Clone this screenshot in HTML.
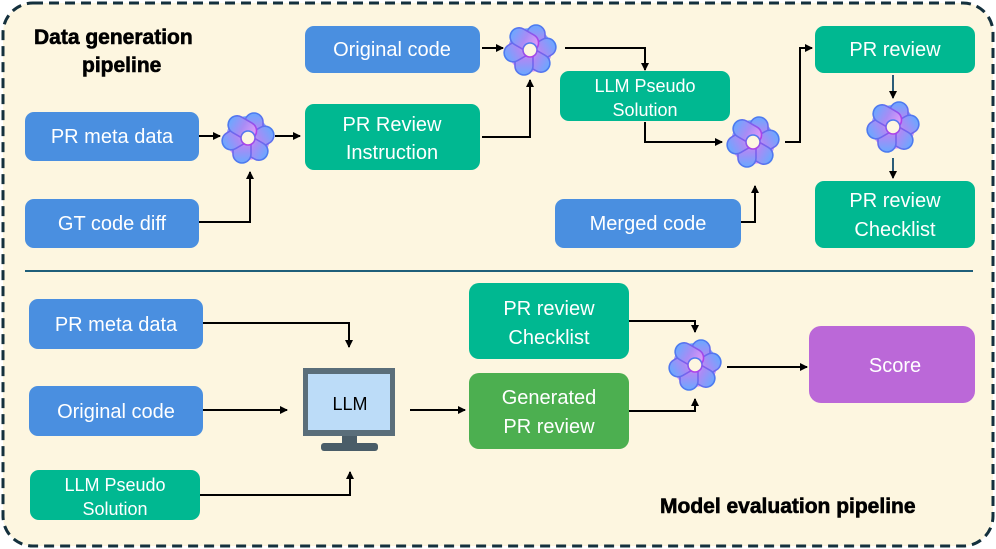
<!DOCTYPE html>
<html><head><meta charset="utf-8"><style>
html,body{margin:0;padding:0;background:#fff;}
svg{display:block;}
text{font-family:"Liberation Sans",sans-serif;}
</style></head><body>
<svg width="996" height="549" viewBox="0 0 996 549" xmlns="http://www.w3.org/2000/svg">
<defs>
<linearGradient id="g" x1="0" y1="0" x2="0" y2="1">
<stop offset="0" stop-color="#6aa8ff"/><stop offset="0.5" stop-color="#a88cf5"/><stop offset="1" stop-color="#e49cf8"/>
</linearGradient>
<linearGradient id="gs" x1="0" y1="0" x2="0" y2="1">
<stop offset="0" stop-color="#4a7cf0"/><stop offset="1" stop-color="#b040e8"/>
</linearGradient>
<g id="ic">
<circle r="22" fill="url(#g)"/>
<g fill="url(#g)" stroke="url(#gs)" stroke-width="1.6">
<rect x="-3" y="-25" width="18" height="30" rx="9" transform="rotate(0)"/>
<rect x="-3" y="-25" width="18" height="30" rx="9" transform="rotate(60)"/>
<rect x="-3" y="-25" width="18" height="30" rx="9" transform="rotate(120)"/>
<rect x="-3" y="-25" width="18" height="30" rx="9" transform="rotate(180)"/>
<rect x="-3" y="-25" width="18" height="30" rx="9" transform="rotate(240)"/>
<rect x="-3" y="-25" width="18" height="30" rx="9" transform="rotate(300)"/>
</g>
<circle r="7" fill="#fdf6e0" stroke="url(#gs)" stroke-width="1.6"/>
</g>
<marker id="a" markerWidth="8" markerHeight="8" refX="7" refY="4" orient="auto" markerUnits="userSpaceOnUse">
<path d="M0,0 L8,4 L0,8 z" fill="#000"/></marker>
</defs>
<rect x="3" y="3" width="990" height="543" rx="30" fill="#fdf6e0" stroke="#14303d" stroke-width="3" stroke-dasharray="10,6"/>
<text x="34" y="44" font-size="21" font-weight="bold" stroke="#000" stroke-width="0.6">Data generation</text>
<text x="82" y="72" font-size="21" font-weight="bold" stroke="#000" stroke-width="0.6">pipeline</text>
<text x="660" y="513" font-size="21" font-weight="bold" stroke="#000" stroke-width="0.6">Model evaluation pipeline</text>
<line x1="25" y1="271" x2="973" y2="271" stroke="#1f5f7a" stroke-width="2"/>

<g font-size="20" fill="#fff" text-anchor="middle">
<rect x="305" y="26" width="175" height="47" rx="9" fill="#4a8fe0"/><text x="392" y="56">Original code</text>
<rect x="25" y="112" width="174" height="49" rx="9" fill="#4a8fe0"/><text x="112" y="143">PR meta data</text>
<rect x="25" y="199" width="174" height="49" rx="9" fill="#4a8fe0"/><text x="112" y="230">GT code diff</text>
<rect x="305" y="104" width="175" height="66" rx="9" fill="#00b891"/><text x="392" y="131">PR Review</text><text x="392" y="159">Instruction</text>
<rect x="560" y="71" width="170" height="50" rx="9" fill="#00b891"/><text x="645" y="92" font-size="18">LLM Pseudo</text><text x="645" y="116" font-size="18">Solution</text>
<rect x="555" y="199" width="186" height="49" rx="9" fill="#4a8fe0"/><text x="648" y="230">Merged code</text>
<rect x="815" y="26" width="160" height="47" rx="9" fill="#00b891"/><text x="895" y="56">PR review</text>
<rect x="815" y="181" width="160" height="67" rx="9" fill="#00b891"/><text x="895" y="207">PR review</text><text x="895" y="236">Checklist</text>

<rect x="29" y="299" width="174" height="50" rx="9" fill="#4a8fe0"/><text x="116" y="331">PR meta data</text>
<rect x="29" y="386" width="174" height="50" rx="9" fill="#4a8fe0"/><text x="116" y="418">Original code</text>
<rect x="30" y="470" width="170" height="50" rx="9" fill="#00b891"/><text x="115" y="491" font-size="18">LLM Pseudo</text><text x="115" y="515" font-size="18">Solution</text>
<rect x="469" y="283" width="160" height="76" rx="10" fill="#00b891"/><text x="549" y="315">PR review</text><text x="549" y="344">Checklist</text>
<rect x="469" y="373" width="160" height="76" rx="10" fill="#4caf50"/><text x="549" y="404">Generated</text><text x="549" y="433">PR review</text>
<rect x="809" y="326" width="166" height="77" rx="12" fill="#bb68d8"/><text x="895" y="372">Score</text>
</g>

<!-- monitor -->
<rect x="303" y="368" width="92" height="68" fill="#5a6e7a"/>
<rect x="308" y="374" width="82" height="56" fill="#bcdcf8"/>
<rect x="342" y="436" width="15" height="8" fill="#4a5d68"/>
<rect x="321" y="443" width="57" height="8" rx="3" fill="#4a5d68"/>
<text x="350" y="410" font-size="18" text-anchor="middle" fill="#000">LLM</text>

<use href="#ic" x="530" y="50"/>
<use href="#ic" x="248" y="138"/>
<use href="#ic" x="753" y="142"/>
<use href="#ic" x="893" y="127"/>
<use href="#ic" x="695" y="365"/>

<g stroke="#000" stroke-width="2" fill="none" marker-end="url(#a)">
<path d="M482,48 H503"/>
<path d="M199,136 H220"/>
<path d="M275,136 H300"/>
<path d="M199,222 H250 V172"/>
<path d="M482,137 H530 V80"/>
<path d="M565,48 H645 V70"/>
<path d="M645,122 H645 V142 H722"/>
<path d="M741,222 H755 V186"/>
<path d="M785,142 H800 V48 H812"/>
<path d="M893,75 V98" stroke="#2a5c78"/>
<path d="M893,158 V178" stroke="#2a5c78"/>
<path d="M203,323 H349 V347"/>
<path d="M203,410 H287"/>
<path d="M200,495 H350 V472"/>
<path d="M410,410 H465"/>
<path d="M629,321 H695 V332"/>
<path d="M629,411 H695 V399"/>
<path d="M727,367 H807"/>
</g>
</svg>
</body></html>
